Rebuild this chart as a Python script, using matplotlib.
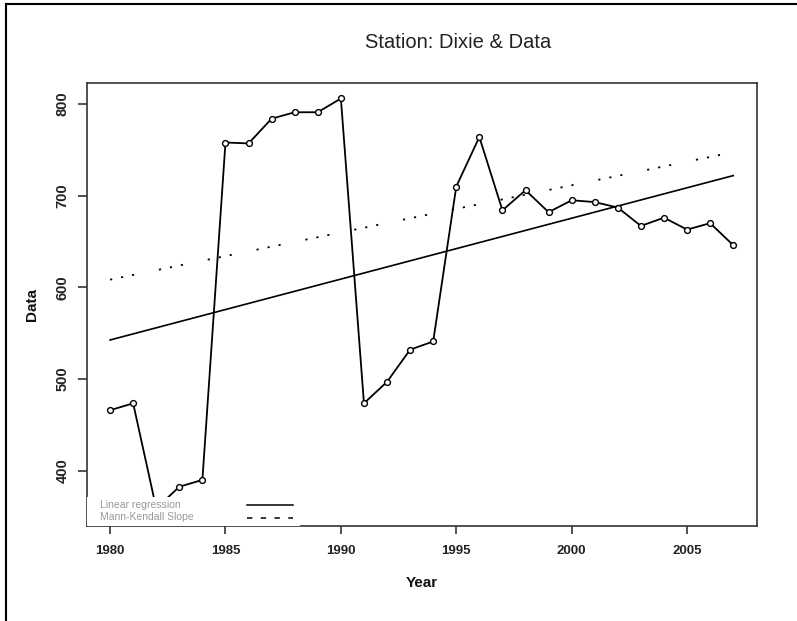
import matplotlib
matplotlib.use("Agg")
import matplotlib.pyplot as plt
from matplotlib.lines import Line2D
from matplotlib.patches import Rectangle

# ---- data ----
years = [1980, 1981, 1982, 1983, 1984, 1985, 1986, 1987, 1988, 1989,
         1990, 1991, 1992, 1993, 1994, 1995, 1996, 1997, 1998, 1999,
         2000, 2001, 2002, 2003, 2004, 2005, 2006, 2007]
values = [466, 473.5, 359, 382.5, 390, 758, 757, 784, 791, 791,
          806, 473.5, 497, 532, 541, 710, 764, 684, 706, 682,
          695, 693, 687, 667, 676, 663, 670, 646]

trend_years = [1980, 2007]
linreg_values = [542.6, 721.9]
mk_values = [608.4, 747.4]

xticks = [1980, 1985, 1990, 1995, 2000, 2005]
yticks = [400, 500, 600, 700, 800]

title = "Station: Dixie & Data"
legend_labels = ["Linear regression", "Mann-Kendall Slope"]

SANS = ["Liberation Sans", "DejaVu Sans"]

# ---- figure ----
W, H = 797, 621
fig = plt.figure(figsize=(W / 100, H / 100), dpi=100)
left, right, top, bottom = 87, 757, 83, 526
ax = fig.add_axes([left / W, 1 - bottom / H, (right - left) / W, (bottom - top) / H])

ax.plot(years, values, color="black", lw=1.3, marker="o", ms=4.2,
        mfc="white", mec="black", mew=1.0, zorder=3)
ax.plot(trend_years, linreg_values, color="black", lw=1.2, zorder=2)
ax.plot(trend_years, mk_values, color="black", lw=1.3,
        linestyle=(0, (1.2, 5.0, 1.2, 5.0, 1.2, 14.0)), zorder=2)

ax.set_xlim(1979, 2008.03)
ax.set_ylim(339.7, 822.9)

ax.set_xticks(xticks)
ax.set_yticks(yticks)
ax.set_xticklabels([str(t) for t in xticks], fontfamily=SANS,
                   fontweight="bold", fontsize=9.5)
ax.set_yticklabels([str(t) for t in yticks], fontfamily=SANS,
                   fontweight="bold", fontsize=10.5, rotation=90, va="center")
ax.tick_params(axis="x", direction="out", length=6, width=1.1, pad=7.5, colors="#222222")
ax.tick_params(axis="y", direction="out", length=6.5, width=1.1, pad=6, colors="#222222")

for s in ax.spines.values():
    s.set_linewidth(1.2)
    s.set_color("#333333")

ax.set_xlabel("Year", fontfamily=SANS, fontweight="bold", fontsize=11,
              labelpad=14, color="#111111")
ax.set_ylabel("Data", fontfamily=SANS, fontweight="bold", fontsize=11,
              labelpad=12, color="#111111")

fig.text(458 / W, 1 - 42 / H, title, ha="center", va="center",
         fontfamily=SANS, fontsize=14.5, color="#222222")

# legend area (white box covering the plot below it)
box_h = (bottom - 497) / (bottom - top)
box_w = (300 - left) / (right - left)
ax.add_patch(Rectangle((0, 0), box_w, box_h, transform=ax.transAxes,
                       facecolor="white", edgecolor="none", zorder=5))

def ax_xy(px, py):
    return ((px - left) / (right - left), (bottom - py) / (bottom - top))

for i, (lab, py) in enumerate(zip(legend_labels, [505, 517.5])):
    tx, ty = ax_xy(100, py)
    ax.text(tx, ty, lab, transform=ax.transAxes, ha="left", va="center",
            fontfamily=SANS, fontsize=7.5, color="#999999", zorder=6)
    x0, y0 = ax_xy(247, py)
    x1, _ = ax_xy(293, py)
    ls = "-" if i == 0 else (0, (3.5, 5.5))
    ax.add_line(Line2D([x0, x1], [y0, y0], transform=ax.transAxes,
                       color="black", lw=1.1, linestyle=ls, zorder=6))

# outer frame lines (left and top)
fig.add_artist(Line2D([6 / W, 6 / W], [0, 1 - 4 / H], transform=fig.transFigure,
                      color="black", lw=1.5))
fig.add_artist(Line2D([6 / W, 1], [1 - 4 / H, 1 - 4 / H], transform=fig.transFigure,
                      color="black", lw=1.5))

fig.savefig("out.png", dpi=100, facecolor="white")
